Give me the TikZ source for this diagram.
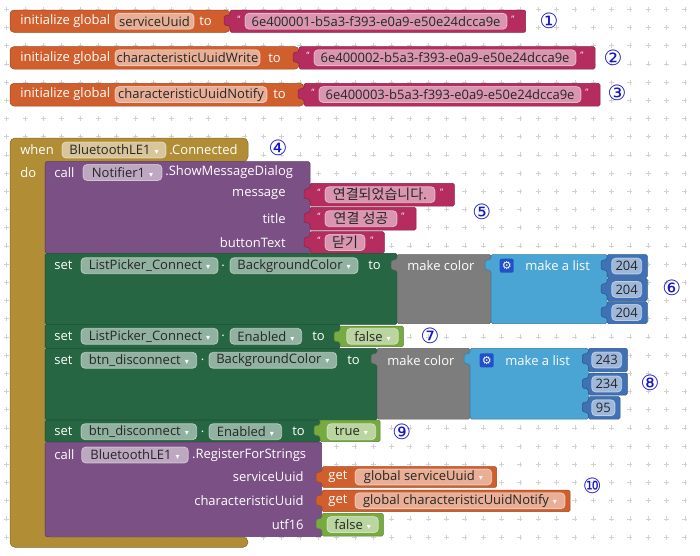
\documentclass[tikz,border=0pt]{standalone}
\usepackage{fontspec}
\setmainfont{Open Sans}
\newfontfamily\krfont{Noto Sans CJK KR}
\newfontfamily\dejavu{DejaVu Sans}

\definecolor{varorange}{RGB}{209,95,45}
\definecolor{txtpink}{RGB}{180,45,94}
\definecolor{mustard}{RGB}{177,142,53}
\definecolor{purp}{RGB}{123,80,132}
\definecolor{setgreen}{RGB}{38,102,67}
\definecolor{mcgray}{RGB}{125,125,125}
\definecolor{listblue}{RGB}{74,164,212}
\definecolor{numblue}{RGB}{63,113,181}
\definecolor{logic}{RGB}{119,171,65}
\definecolor{gearblue}{RGB}{35,80,200}
\definecolor{circblue}{RGB}{20,20,200}

\newcommand\fnt{\fontsize{13}{15}\selectfont}
\newcommand\ddarrow{\hspace{4pt}{\dejavu\fontsize{8}{8}\selectfont\textcolor{white}{▾}}}
\newcommand\kr[1]{{\krfont\fontsize{14}{15}\selectfont #1}}

\tikzset{every picture/.style={line width=0.75pt}}
\tikzset{
  blk/.style={line width=0.5pt, rounded corners=1.5pt},
  gridc/.style={line width=0.8pt, color=black!18},
  lbl/.style={anchor=west, inner sep=0pt, text=white, font=\fnt},
  rlbl/.style={lbl, anchor=east},
  fld/.style={rounded corners=4pt, fill=white, fill opacity=0.5, draw=white, draw opacity=0.5,
    text opacity=1, text=black!85, minimum height=16pt, inner sep=0pt, font=\fnt},
  quot/.style={inner sep=0pt, text=white, font=\fontsize{9}{9}\selectfont},
  num/.style={inner sep=0pt, text=circblue, font=\dejavu\fontsize{21}{21}\selectfont},
  gear/.style={fill=gearblue, rounded corners=2pt, minimum size=14pt, inner sep=0pt,
    text=white, font=\dejavu\fontsize{11}{11}\selectfont},
}

% statement block: x1 y1 x2 y2 colour
\newcommand\stmt[5]{\draw[blk, fill=#5, draw=#5!75!black] (#1,#2) rectangle (#3,#4);}
% value block with its tab on the left: x1 y1 x2 y2 colour
\newcommand\vblk[5]{\draw[blk, fill=#5, draw=#5!75!black] (#1,#2) -- (#3,#2) -- (#3,#4) -- (#1,#4)
  -- (#1,{#2+16}) -- ({#1-6},{#2+15}) -- ({#1-6},{#2+6}) -- (#1,{#2+5}) -- cycle;}
% field: name x1 x2 y text
\newcommand\fld[5]{\node[fld, minimum width={#3-#2}] (#1) at ({(#2+#3)/2},#4) {#5};}

\begin{document}
\begin{tikzpicture}[x=1pt,y=1pt,yscale=-1]
\useasboundingbox (0,0) rectangle (700,555);
\fill[white] (0,0) rectangle (700,555);

% workspace grid
\foreach \i in {0,...,37}
  \foreach \j in {0,...,29}
    \draw[gridc] ({6.7+18.33*\i-2.5},{9.3+18.2*\j}) -- ++(5,0)
                 ({6.7+18.33*\i},{9.3+18.2*\j-2.5}) -- ++(0,5);

%Shape: global variables
\draw[blk, rounded corners=4pt, fill=varorange, draw=varorange!75!black] (10,10) rectangle (230,32.3);
\vblk{230}{10}{525.7}{32.3}{txtpink}
\draw[blk, rounded corners=4pt, fill=varorange, draw=varorange!75!black] (10,46.7) rectangle (299,69);
\vblk{299}{46.7}{595}{69}{txtpink}
\draw[blk, rounded corners=4pt, fill=varorange, draw=varorange!75!black] (10,83.3) rectangle (304,106);
\vblk{304}{83.3}{600}{106}{txtpink}

% Text Node
\node[lbl] (ini1) at (20,21.2) {initialize global};
\fld{var1}{115}{194}{21.2}{serviceUuid}
\node[lbl] (to1) at (199,21.2) {to};
\node[quot] (q1a) at (239,19) {“};
\fld{uuid1}{245}{507}{21.2}{6e400001-b5a3-f393-e0a9-e50e24dcca9e}
\node[quot] (q1b) at (513,19) {”};
\node[num] (n1) at (549,20.7) {①};

\node[lbl] (ini2) at (20,57.8) {initialize global};
\fld{var2}{115}{260}{57.8}{characteristicUuidWrite}
\node[lbl] (to2) at (268,57.8) {to};
\node[quot] (q2a) at (308,55.6) {“};
\fld{uuid2}{314}{576}{57.8}{6e400002-b5a3-f393-e0a9-e50e24dcca9e}
\node[quot] (q2b) at (582,55.6) {”};
\node[num] (n2) at (613,58) {②};

\node[lbl] (ini3) at (20,94.6) {initialize global};
\fld{var3}{115}{267}{94.6}{characteristicUuidNotify}
\node[lbl] (to3) at (273,94.6) {to};
\node[quot] (q3a) at (313,92.4) {“};
\fld{uuid3}{319}{581}{94.6}{6e400003-b5a3-f393-e0a9-e50e24dcca9e}
\node[quot] (q3b) at (587,92.4) {”};
\node[num] (n3) at (617,93) {③};

%Shape: event block
\draw[blk, rounded corners=5pt, fill=mustard, draw=mustard!75!black] (10,138) -- (248,138) -- (248,161.7)
  -- (45,161.7) -- (45,537) -- (248,537) -- (248,547.3) -- (10,547.3) -- cycle;
\node[lbl] (when) at (20,150) {when};
\fld{ble1}{62}{166}{150}{BluetoothLE1\ddarrow}
\node[lbl] (conn) at (169,150) {.Connected};
\node[lbl] (do) at (20,172.5) {do};
\node[num] (n4) at (278,147.7) {④};

%Shape: ShowMessageDialog
\stmt{45}{161.7}{310}{253.3}{purp}
\node[lbl] (call1) at (54,172.5) {call};
\fld{notif}{83}{162}{172.5}{Notifier1\ddarrow}
\node[lbl] (smd) at (165,172.5) {.ShowMessageDialog};
\node[rlbl] (msg) at (286,194.7) {message};
\node[rlbl] (ttl) at (286,218.7) {title};
\node[rlbl] (btxt) at (286,242.5) {buttonText};
\vblk{310}{183.3}{454.3}{206}{txtpink}
\node[quot] (q4a) at (319,192.5) {“};
\fld{str1}{325}{435}{194.7}{\kr{연결되었습니다.}}
\node[quot] (q4b) at (441.7,192.5) {”};
\vblk{310}{207.3}{416}{230}{txtpink}
\node[quot] (q5a) at (319,216.5) {“};
\fld{str2}{325}{397}{218.7}{\kr{연결 성공}}
\node[quot] (q5b) at (403,216.5) {”};
\vblk{310}{231.7}{384.3}{253.3}{txtpink}
\node[quot] (q6a) at (319,240.3) {“};
\fld{str3}{325}{365}{242.5}{\kr{닫기}}
\node[quot] (q6b) at (372,240.3) {”};
\node[num] (n5) at (481.7,211.7) {⑤};

%Shape: set ListPicker_Connect.BackgroundColor
\stmt{45}{253.3}{397}{324.3}{setgreen}
\node[lbl] (set1) at (54,265.7) {set};
\fld{lp1}{81}{218}{265.7}{ListPicker\_Connect\ddarrow}
\node[lbl] (dot1) at (221,265.7) {.};
\fld{bg1}{230}{358}{265.7}{BackgroundColor\ddarrow}
\node[lbl] (to4) at (368,265.7) {to};
\vblk{397}{254.5}{491}{323.5}{mcgray}
\node[lbl] (mc1) at (407,265.7) {make color};
\vblk{491}{254.5}{607}{323.5}{listblue}
\node[gear] (gr1) at (506.7,265.7) {⚙};
\node[lbl] (ml1) at (525,265.7) {make a list};
\vblk{607}{254.5}{647.3}{277.7}{numblue}
\fld{r1}{611.7}{641.7}{266.1}{204}
\vblk{607}{278.3}{647.3}{300.5}{numblue}
\fld{g1}{611.7}{641.7}{289.4}{204}
\vblk{607}{301.7}{647.3}{323.5}{numblue}
\fld{b1}{611.7}{641.7}{312.6}{204}
\node[num] (n6) at (671.7,288.3) {⑥};

%Shape: set ListPicker_Connect.Enabled
\stmt{45}{324.3}{340}{348.3}{setgreen}
\node[lbl] (set2) at (54,336.3) {set};
\fld{lp2}{81}{218}{336.3}{ListPicker\_Connect\ddarrow}
\node[lbl] (dot2) at (221,336.3) {.};
\fld{en1}{230}{301.7}{336.3}{Enabled\ddarrow}
\node[lbl] (to5) at (312,336.3) {to};
\vblk{340}{326}{403.3}{346.7}{logic}
\fld{fls1}{346.7}{398.3}{336.3}{false\ddarrow}
\node[num] (n7) at (430,335.7) {⑦};

%Shape: set btn_disconnect.BackgroundColor
\stmt{45}{348.3}{377}{420}{setgreen}
\node[lbl] (set3) at (54,360.3) {set};
\fld{bd1}{81}{196.7}{360.3}{btn\_disconnect\ddarrow}
\node[lbl] (dot3) at (200.5,360.3) {.};
\fld{bg2}{209}{336.7}{360.3}{BackgroundColor\ddarrow}
\node[lbl] (to6) at (347,360.3) {to};
\vblk{377}{348.3}{470}{419}{mcgray}
\node[lbl] (mc2) at (387,360.3) {make color};
\vblk{470}{348.3}{588.3}{419}{listblue}
\node[gear] (gr2) at (486.7,360.3) {⚙};
\node[lbl] (ml2) at (505,360.3) {make a list};
\vblk{588.3}{348.3}{627.3}{371.7}{numblue}
\fld{r2}{591.7}{621.7}{360}{243}
\vblk{588.3}{373}{627.3}{395}{numblue}
\fld{g2}{591.7}{621.7}{384}{234}
\vblk{588.3}{396.7}{620}{419}{numblue}
\fld{b2}{591.7}{615}{407.8}{95}
\node[num] (n8) at (650,383.3) {⑧};

%Shape: set btn_disconnect.Enabled
\stmt{45}{420}{320}{442}{setgreen}
\node[lbl] (set4) at (54,431.7) {set};
\fld{bd2}{81}{196.7}{431.7}{btn\_disconnect\ddarrow}
\node[lbl] (dot4) at (200.5,431.7) {.};
\fld{en2}{209}{281.7}{431.7}{Enabled\ddarrow}
\node[lbl] (to7) at (292,431.7) {to};
\vblk{320}{420}{380}{441.7}{logic}
\fld{tru}{327}{375.7}{431.7}{true\ddarrow}
\node[num] (n9) at (401.7,432.3) {⑨};

%Shape: RegisterForStrings
\stmt{45}{442}{321.7}{536.7}{purp}
\node[lbl] (call2) at (54,455) {call};
\fld{ble2}{81.7}{188.3}{455}{BluetoothLE1\ddarrow}
\node[lbl] (rfs) at (191.7,455) {.RegisterForStrings};
\node[rlbl] (svc) at (304,477) {serviceUuid};
\node[rlbl] (chr) at (304,500.8) {characteristicUuid};
\node[rlbl] (u16) at (304,524.6) {utf16};
\vblk{322}{466.7}{496.7}{487.3}{varorange}
\node[lbl] (get1) at (328,477) {get};
\fld{gv1}{355}{491.7}{477}{global serviceUuid\ddarrow}
\vblk{322}{490}{570}{511.7}{varorange}
\node[lbl] (get2) at (328,500.8) {get};
\fld{gv2}{355}{565}{500.8}{global characteristicUuidNotify\ddarrow}
\vblk{322}{513.3}{383.3}{536}{logic}
\fld{fls2}{327}{378.3}{524.6}{false\ddarrow}
\node[num] (n10) at (592.3,485.7) {⑩};

\end{tikzpicture}
\end{document}
